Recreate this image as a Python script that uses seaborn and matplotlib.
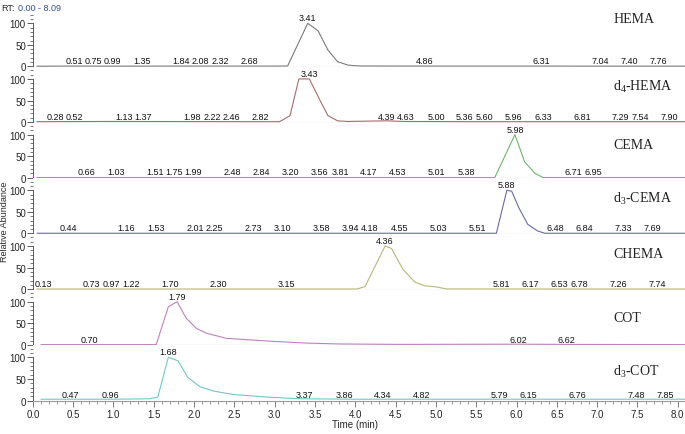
import matplotlib
matplotlib.use("Agg")
import matplotlib.pyplot as plt
from matplotlib.ticker import MultipleLocator
import seaborn as sns

# compound names (right-hand labels)
names = ["HEMA", r"d$_\mathregular{4}$-HEMA", "CEMA", r"d$_\mathregular{3}$-CEMA",
         "CHEMA", "COT", r"d$_\mathregular{3}$-COT"]

# traces (retention time in min, relative abundance in %)
hema_t = [0.05, 0.5, 1.0, 2.0, 3.0, 3.16, 3.41, 3.54, 3.66, 3.78, 3.91, 4.05, 5.0, 6.3, 7.0, 8.09]
hema_y = [0.5, 0.8, 0.6, 0.8, 0.8, 1.0, 100, 82, 38, 11, 3, 1, 0.8, 0.8, 0.6, 0.6]

d4hema_t = [0.05, 1.0, 2.0, 3.06, 3.19, 3.30, 3.43, 3.55, 3.66, 3.78, 3.90, 4.39, 4.6, 5.5, 7.0, 8.09]
d4hema_y = [1, 1.5, 1.2, 1, 15, 100, 100, 55, 15, 3, 1.5, 3, 1.5, 1, 1, 1]

cema_t = [0.05, 3.0, 5.73, 5.98, 6.10, 6.23, 6.33, 7.0, 8.09]
cema_y = [0.5, 0.5, 0.5, 100, 37, 10, 0.5, 0.5, 0.5]

d3cema_t = [0.05, 3.0, 5.75, 5.88, 5.94, 6.03, 6.14, 6.26, 6.35, 7.0, 8.09]
d3cema_y = [0.5, 0.5, 0.5, 100, 98, 59, 21, 6, 0.5, 0.5, 0.5]

chema_t = [0.05, 2.0, 4.02, 4.12, 4.37, 4.45, 4.59, 4.74, 4.86, 5.01, 5.13, 6.5, 8.09]
chema_y = [0.3, 0.3, 0.3, 6, 100, 94, 46, 16, 8, 5, 0.5, 0.3, 0.3]

cot_t = [0.1, 1.0, 1.53, 1.68, 1.79, 1.90, 2.03, 2.15, 2.40, 2.65, 2.98, 3.40, 3.81, 4.55, 6.0, 6.6, 8.09]
cot_y = [0.5, 0.5, 0.5, 88, 100, 62, 38, 27, 15, 12, 8, 4, 2, 1, 1.5, 1, 0.5]

d3cot_t = [0.1, 1.0, 1.45, 1.55, 1.68, 1.80, 1.92, 2.07, 2.24, 2.48, 2.90, 3.31, 4.0, 6.0, 8.09]
d3cot_y = [3, 3, 4, 8, 100, 92, 54, 32, 22, 14, 8, 4, 3, 3, 3]

# apex labels
peak_rt = [3.41, 3.43, 5.98, 5.88, 4.36, 1.79, 1.68]

# small baseline labels
small_rt = [
    [0.51, 0.75, 0.99, 1.35, 1.84, 2.08, 2.32, 2.68, 4.86, 6.31, 7.04, 7.40, 7.76],
    [0.28, 0.52, 1.13, 1.37, 1.98, 2.22, 2.46, 2.82, 4.39, 4.63, 5.00, 5.36, 5.60,
     5.96, 6.33, 6.81, 7.29, 7.54, 7.90],
    [0.66, 1.03, 1.51, 1.75, 1.99, 2.48, 2.84, 3.20, 3.56, 3.81, 4.17, 4.53, 5.01,
     5.38, 6.71, 6.95],
    [0.44, 1.16, 1.53, 2.01, 2.25, 2.73, 3.10, 3.58, 3.94, 4.18, 4.55, 5.03, 5.51,
     6.48, 6.84, 7.33, 7.69],
    [0.13, 0.73, 0.97, 1.22, 1.70, 2.30, 3.15, 5.81, 6.17, 6.53, 6.78, 7.26, 7.74],
    [0.70, 6.02, 6.62],
    [0.47, 0.96, 3.37, 3.86, 4.34, 4.82, 5.79, 6.15, 6.76, 7.48, 7.85],
]

traces = [(hema_t, hema_y), (d4hema_t, d4hema_y), (cema_t, cema_y), (d3cema_t, d3cema_y),
          (chema_t, chema_y), (cot_t, cot_y), (d3cot_t, d3cot_y)]
colors = ["#7a7a7a", "#a86c6c", "#6ab86a", "#6a6aa8", "#b8b878", "#c080c0", "#70c8c8"]
name_y = [111, 84, 78, 83, 83, 64, 69]

sns.set_style("ticks")
plt.rcParams["font.family"] = ["Liberation Sans", "DejaVu Sans"]

fig, axes = plt.subplots(7, 1, sharex=True, figsize=(6.85, 4.35), dpi=100)
fig.subplots_adjust(left=0.048, right=1.0, bottom=0.076, top=0.972, hspace=0)

for i, ax in enumerate(axes):
    t, y = traces[i]
    sns.lineplot(x=t, y=y, ax=ax, color=colors[i], lw=0.8)
    ax.set_xlim(0, 8.09)
    ax.set_ylim(-1, 128)
    ax.set_yticks([0, 50, 100])
    ax.yaxis.set_minor_locator(MultipleLocator(10))
    ax.tick_params(axis="y", which="major", length=4, width=0.6, labelsize=7, pad=1, color="#444")
    ax.tick_params(axis="y", which="minor", length=2, width=0.5, color="#444")
    ax.spines["left"].set_bounds(0, 100)
    ax.spines["left"].set_linewidth(0.6)
    ax.spines["left"].set_color("#444")
    ax.spines["bottom"].set_color("#999")
    ax.spines["bottom"].set_linewidth(0.8)
    sns.despine(ax=ax, top=True, right=True)
    ax.set_ylabel("")

    ax.text(peak_rt[i], 102, f"{peak_rt[i]:.2f}", ha="center", va="bottom",
            fontsize=6.5, color="#111", clip_on=False)
    for rt in small_rt[i]:
        ax.text(rt, 3, f"{rt:.2f}", ha="center", va="bottom", fontsize=6.5, color="#111")
    ax.text(7.2, name_y[i], names[i], ha="left", va="center", fontsize=10,
            family=["Liberation Serif", "DejaVu Serif"], color="#222")

    if i < 6:
        ax.tick_params(axis="x", which="both", bottom=False, labelbottom=False)

bottom = axes[-1]
bottom.xaxis.set_major_locator(MultipleLocator(0.5))
bottom.xaxis.set_minor_locator(MultipleLocator(0.1))
bottom.xaxis.set_major_formatter(matplotlib.ticker.FormatStrFormatter("%.1f"))
bottom.tick_params(axis="x", which="major", length=4, width=0.6, labelsize=7, pad=1.5, color="#666")
bottom.tick_params(axis="x", which="minor", length=2.5, width=0.5, color="#666")

fig.text(0.518, 0.012, "Time (min)", ha="center", va="bottom", fontsize=7)
fig.text(0.0, 0.49, "Relative Abundance", rotation=90, ha="left", va="center", fontsize=6.5)
fig.text(0.002, 0.99, "RT:", ha="left", va="top", fontsize=6.5)
fig.text(0.027, 0.99, "0.00 - 8.09", ha="left", va="top", fontsize=6.5, color="#3050a0")

fig.savefig("out.png", dpi=100)
